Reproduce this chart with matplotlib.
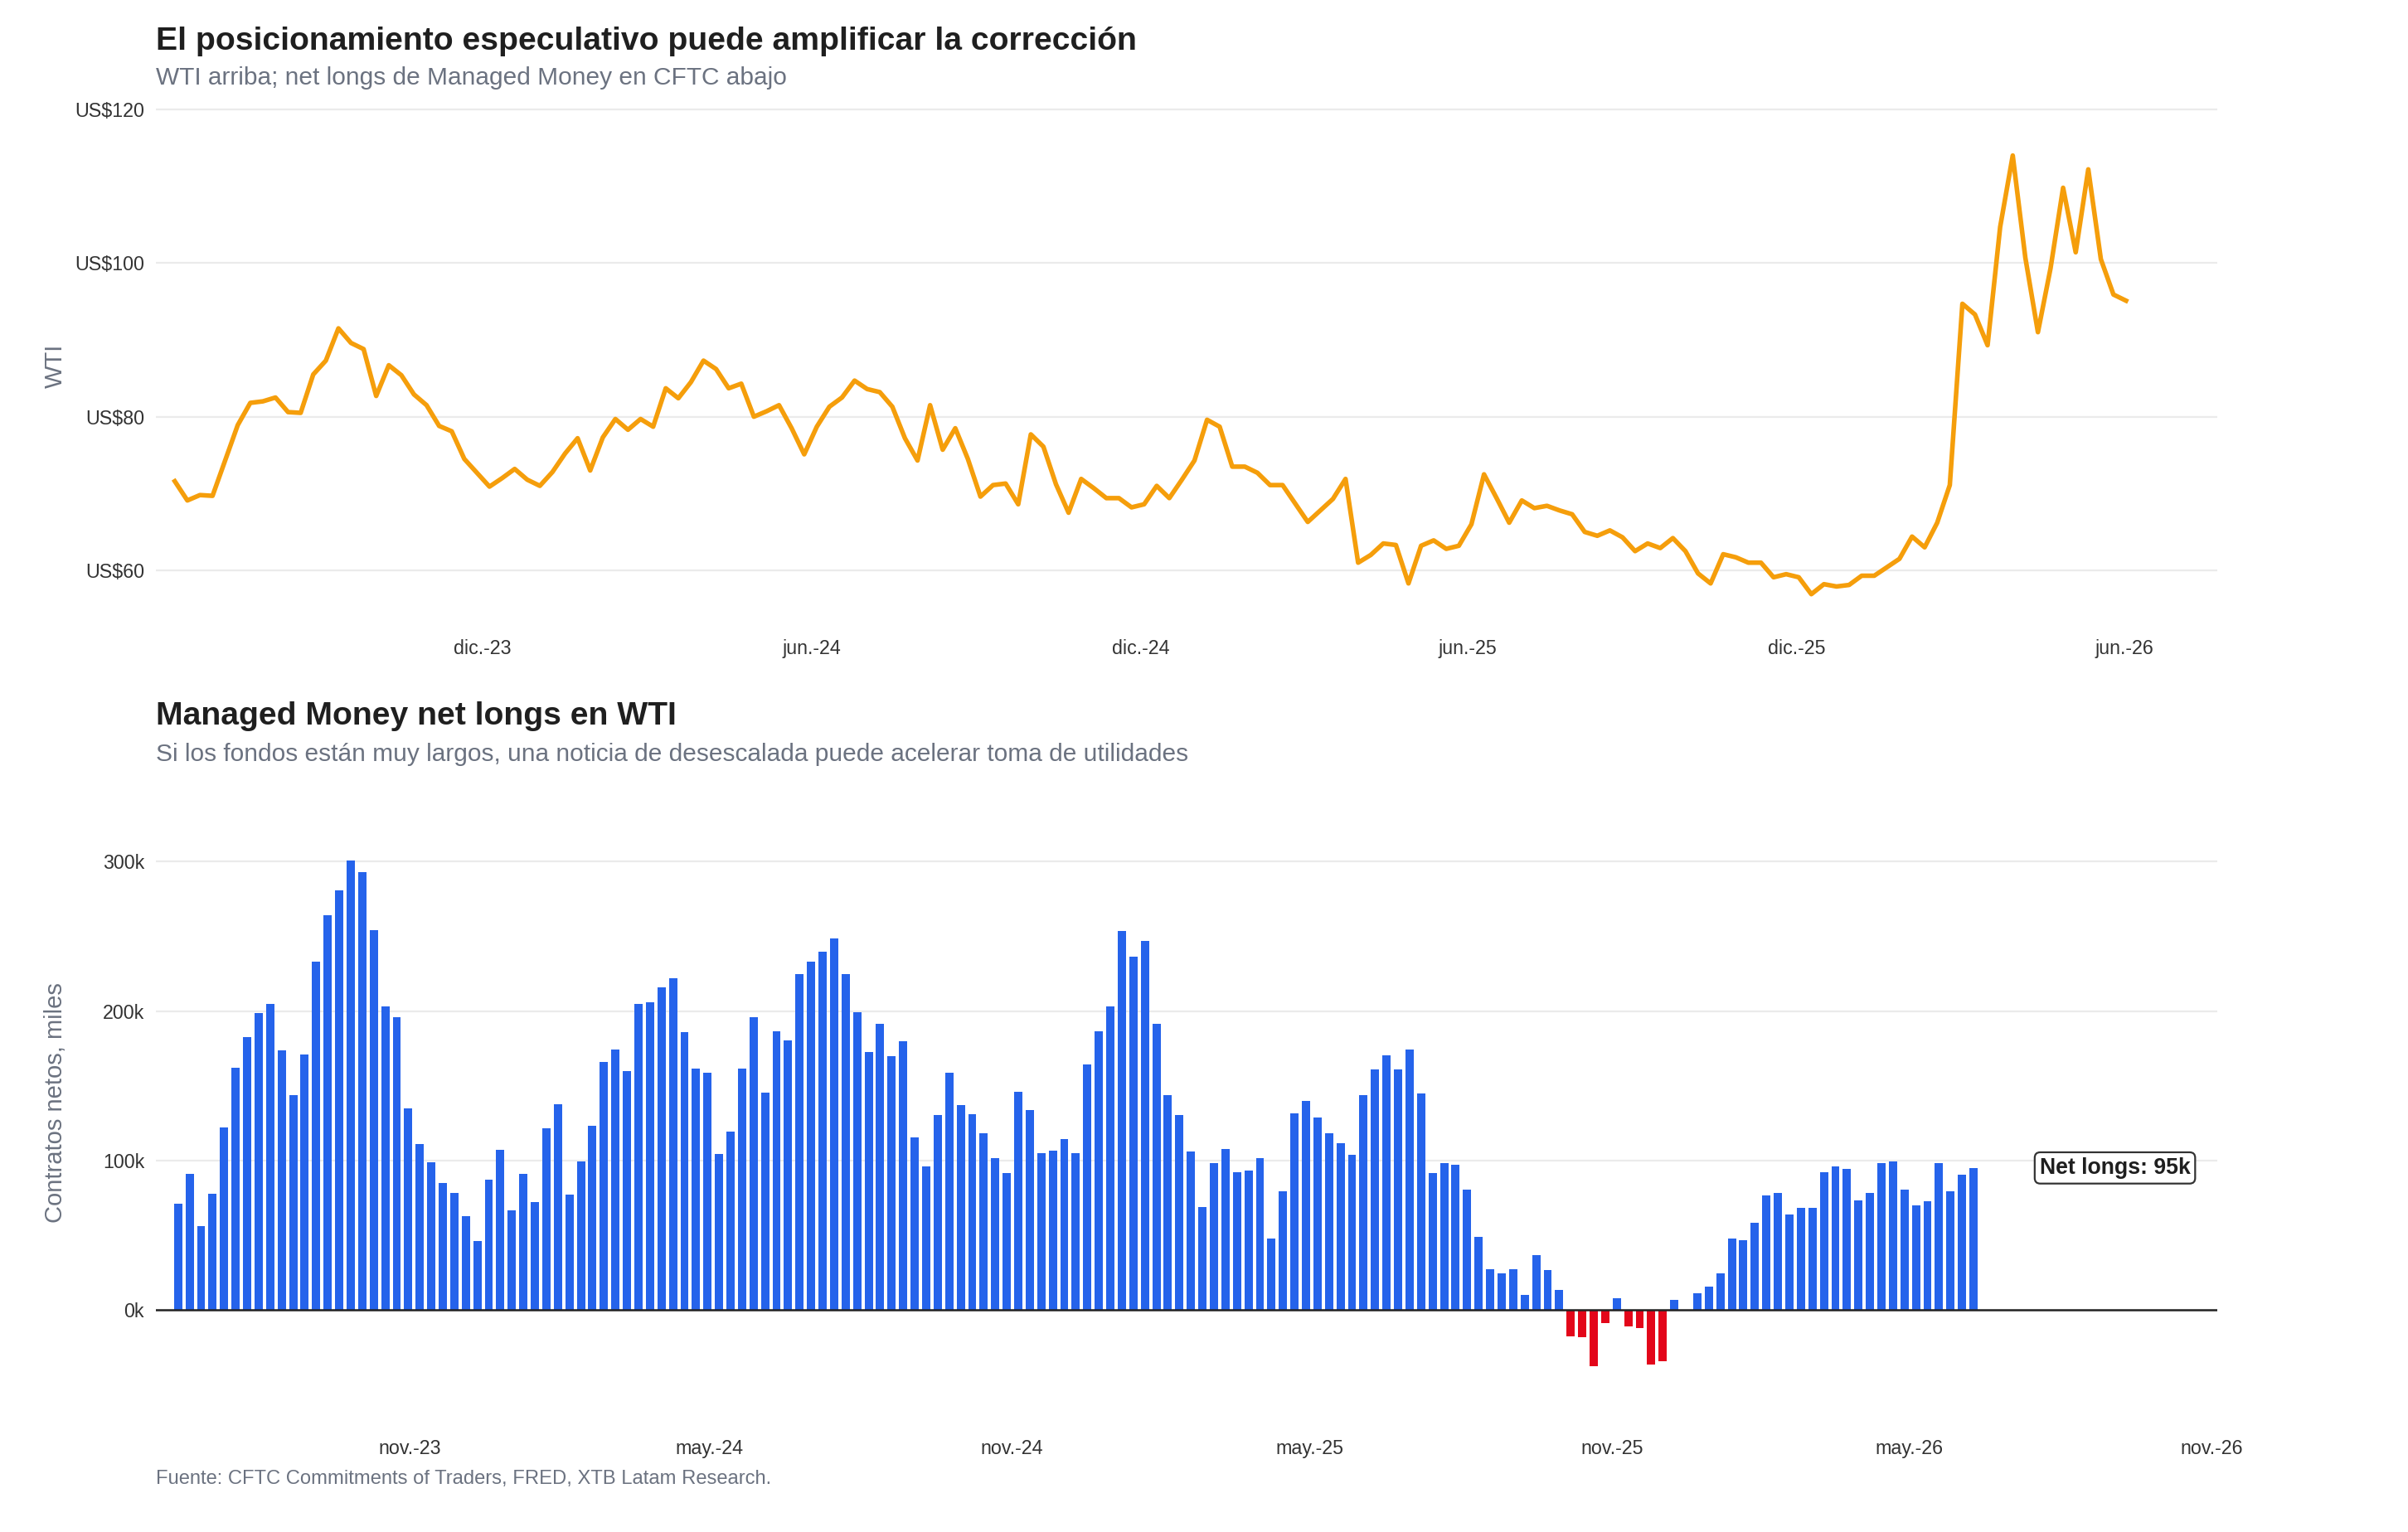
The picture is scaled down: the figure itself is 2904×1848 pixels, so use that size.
import pandas as pd
import matplotlib
matplotlib.use("Agg")
import matplotlib.pyplot as plt

plt.rcParams['font.family'] = ['Liberation Sans', 'DejaVu Sans']

# WTI semanal (US$)
wti = [71.6, 69.1, 69.8, 69.7, 74.3, 78.9, 81.8, 82.0, 82.5, 80.6, 80.5, 85.5, 87.3, 91.5, 89.6, 88.8,
       82.7, 86.7, 85.4, 82.9, 81.5, 78.8, 78.1, 74.5, 72.7, 70.9, 72.0, 73.2, 71.8, 71.0, 72.8, 75.2,
       77.2, 73.0, 77.3, 79.7, 78.3, 79.7, 78.7,
       83.7, 82.4, 84.5, 87.3, 86.2, 83.7, 84.3, 80.0, 80.7, 81.5, 78.5, 75.1, 78.7, 81.3, 82.5, 84.7,
       83.6, 83.2, 81.3, 77.2, 74.3, 81.5, 75.7, 78.5, 74.5, 69.6, 71.1, 71.3, 68.6, 77.7, 76.1, 71.2,
       67.5, 71.9, 70.7, 69.4, 69.4, 68.2, 68.6,
       71.0, 69.4, 71.8, 74.3, 79.6, 78.7, 73.5, 73.5, 72.7, 71.1, 71.1, 68.7, 66.3, 67.8, 69.3, 71.9,
       61.0, 62.0, 63.5, 63.3, 58.3, 63.2, 63.9, 62.8, 63.2, 66.0, 72.5, 69.4, 66.2, 69.1, 68.1, 68.4,
       67.8, 67.3, 65.0, 64.5, 65.2, 64.3, 62.5,
       63.5, 62.9, 64.2, 62.5, 59.6, 58.3, 62.1, 61.7, 61.0, 61.0, 59.1, 59.5, 59.1, 56.9, 58.2, 57.9,
       58.1, 59.3, 59.3, 60.4, 61.5, 64.4, 63.0, 66.2, 71.1, 94.7, 93.3, 89.3, 104.7, 114.0, 100.7,
       91.0, 99.3, 109.8, 101.4, 112.2, 100.5, 95.9, 95.1]

# Managed Money net longs (miles de contratos)
net_longs = [71, 91, 56, 77.5, 122, 162, 182.5, 198.5, 205, 173.5, 144, 171, 233, 264, 281, 301,
             293, 254, 203, 196, 135, 111, 99, 85, 78, 62.5, 46, 87, 107, 66.5, 91, 72, 121.5,
             137.5, 77, 99.6, 123, 166, 174, 160, 205, 206, 215.6, 222, 186, 161.5, 158.5, 104.4,
             119.3,
             161.4, 195.8, 145.4, 186.4, 180.3, 224.6, 232.9, 239.7, 248.5, 224.6, 199.1, 172.6,
             191.4, 169.7, 179.8, 115.4, 96, 130.3, 158.6,
             137, 131, 118.2, 101.8, 91.3, 145.8, 133.5, 104.7, 106.5, 114.5, 104.7, 164, 186.5,
             202.9, 253.5, 236.4, 246.9, 191.3, 144, 130.2, 105.8, 68.7, 98.5, 107.6, 92, 93.1,
             101.5, 48, 79.6, 131.3, 139.6, 128.7, 118.2, 111.3, 103.6, 144, 161.1, 170.2, 161.1,
             174.2, 145.1, 91.3, 98.2, 97.1, 80.7, 48.7, 27.3, 24.4, 27.3, 9.8, 36.4, 26.5, 13.5,
             -17.8, -18.5, -37.8, -8.7, 7.6, -11.3, -12.4, -36.7,
             -34.5, 6.5, 0, 10.9, 15.3, 24.4, 47.6, 46.9, 58.5, 76.4, 78.5, 63.6, 68, 68, 92, 96,
             94.2, 73.1, 78.5, 98.2, 99.6, 80.4, 70.2, 72.7, 98.2, 79.6, 90.2, 94.9]

wti_dates = pd.date_range('2023-06-13', periods=len(wti), freq='7D')
cot_dates = pd.date_range('2023-06-13', periods=len(net_longs), freq='7D')

top_ticks = ['2023-12-01', '2024-06-01', '2024-12-01', '2025-06-01', '2025-12-01', '2026-06-01']
top_labels = ['dic.-23', 'jun.-24', 'dic.-24', 'jun.-25', 'dic.-25', 'jun.-26']
bot_ticks = ['2023-11-01', '2024-05-01', '2024-11-01', '2025-05-01', '2025-11-01', '2026-05-01',
             '2026-11-01']
bot_labels = ['nov.-23', 'may.-24', 'nov.-24', 'may.-25', 'nov.-25', 'may.-26', 'nov.-26']

W, H = 2904, 1848
DARK = '#1F1F1F'
GRAY = '#6B7280'
TICK = '#333333'


def box(l, t, r, b):
    return [l / W, 1 - b / H, (r - l) / W, (b - t) / H]


def style(ax):
    for s in ax.spines.values():
        s.set_visible(False)
    ax.grid(axis='y', color='#EBEBEB', lw=0.8)
    ax.grid(axis='x', visible=False)
    ax.set_axisbelow(True)
    ax.tick_params(length=0, labelsize=8.4, colors=TICK, pad=5)


fig = plt.figure(figsize=(W / 200, H / 200), dpi=200)

# --- panel superior: WTI
ax1 = fig.add_axes(box(188, 122.7, 2673.5, 757.5))
ax1.plot(wti_dates, wti, color='#F59E0B', lw=2.0, solid_joinstyle='round')
ax1.set_ylim(52.5, 121)
ax1.set_xlim(pd.Timestamp('2023-06-02 12:00'), pd.Timestamp('2026-07-22 12:00'))
ax1.set_yticks([60, 80, 100, 120])
ax1.set_yticklabels(['US$60', 'US$80', 'US$100', 'US$120'])
ax1.set_xticks(pd.to_datetime(top_ticks))
ax1.set_xticklabels(top_labels)
style(ax1)

# --- panel inferior: net longs
ax2 = fig.add_axes(box(188, 967.3, 2673.5, 1722.4))
colors = ['#2563EB' if v >= 0 else '#E3061A' for v in net_longs]
ax2.bar(cot_dates, net_longs, width=5.0, color=colors, zorder=2)
ax2.axhline(0, color='#222222', lw=0.9, zorder=3)
ax2.set_ylim(-79, 340)
ax2.set_xlim(pd.Timestamp('2023-05-30 12:00'), pd.Timestamp('2026-11-04'))
ax2.set_yticks([0, 100, 200, 300])
ax2.set_yticklabels(['0k', '100k', '200k', '300k'])
ax2.set_xticks(pd.to_datetime(bot_ticks))
ax2.set_xticklabels(bot_labels)
style(ax2)

ax2.text(pd.Timestamp('2026-09-03'), 95, 'Net longs: 95k', ha='center', va='center',
         fontsize=9.6, fontweight='bold', color=DARK, zorder=4,
         bbox=dict(boxstyle='round,pad=0.22,rounding_size=0.25', fc='white', ec='#333333', lw=0.8))

# --- textos
fig.text(188 / W, 1 - 60 / H, 'El posicionamiento especulativo puede amplificar la corrección',
         fontsize=14.1, fontweight='bold', color=DARK, va='baseline')
fig.text(188 / W, 1 - 102 / H, 'WTI arriba; net longs de Managed Money en CFTC abajo',
         fontsize=10.75, color=GRAY, va='baseline')
fig.text(188 / W, 1 - 874 / H, 'Managed Money net longs en WTI',
         fontsize=14.1, fontweight='bold', color=DARK, va='baseline')
fig.text(188 / W, 1 - 918 / H,
         'Si los fondos están muy largos, una noticia de desescalada puede acelerar toma de utilidades',
         fontsize=10.75, color=GRAY, va='baseline')
fig.text(188 / W, 1 - 1790 / H, 'Fuente: CFTC Commitments of Traders, FRED, XTB Latam Research.',
         fontsize=8.55, color=GRAY, va='baseline')

fig.text(67 / W, 1 - 441 / H, 'WTI', rotation=90, ha='center', va='center',
         fontsize=10.5, color=GRAY)
fig.text(67 / W, 1 - 1330 / H, 'Contratos netos, miles', rotation=90, ha='center', va='center',
         fontsize=10.5, color=GRAY)

fig.savefig('out.png', dpi=200, facecolor='white')
